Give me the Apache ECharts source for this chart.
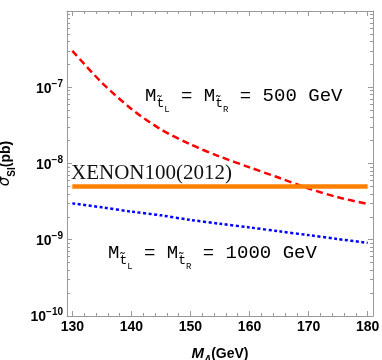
<!DOCTYPE html>
<html>
<head>
<meta charset="utf-8">
<script src="https://cdn.jsdelivr.net/npm/echarts@6/dist/echarts.min.js"></script>
<style>html,body{margin:0;padding:0;background:#fff}#c{width:382px;height:360px}</style>
</head>
<body>
<div id="c"></div>
<script>
// ---- data ----
const massA = [130, 135, 140, 145, 150, 155, 160, 165, 170, 175, 180];
const sigma500 = [3.0e-7, 1.15e-7, 5.2e-8, 2.8e-8, 1.78e-8, 1.23e-8, 8.9e-9, 6.5e-9, 4.7e-9, 3.6e-9, 2.95e-9];
const sigma1000 = [3.0e-9, 2.66e-9, 2.34e-9, 2.09e-9, 1.82e-9, 1.62e-9, 1.45e-9, 1.29e-9, 1.15e-9, 1.02e-9, 9.1e-10];
const xenonMass = [130, 180];
const xenonLimit = [5e-9, 5e-9];
const xTickLabels = [130, 140, 150, 160, 170, 180];
const xMinorTicks = [132,134,136,138,142,144,146,148,152,154,156,158,162,164,166,168,172,174,176,178];
const yLabelValues = [1e-10, 1e-9, 1e-8, 1e-7];
const yMajorTicks = [1e-10, 1e-9, 1e-8, 1e-7, 1e-6];
const yMinorTicks = [];
[-10, -9, -8, -7].forEach(function (e) { for (let m = 2; m <= 9; m++) yMinorTicks.push(m * Math.pow(10, e)); });

const pair = (xs, ys) => xs.map((x, i) => [x, ys[i]]);

const frame = '#9a9a9a';
const sans = 'Liberation Sans';
const mono = 'Liberation Mono';

function xAx(pos, ticks, len, showLine, showLabel) {
  return {
    type: 'value', position: pos, min: 129.1, max: 180.9,
    axisLine: { show: showLine, lineStyle: { color: frame, width: 1 } },
    axisTick: { show: true, inside: true, length: len, customValues: ticks, lineStyle: { color: frame } },
    axisLabel: showLabel ? { show: true, customValues: xTickLabels, margin: 4, color: '#000', fontFamily: sans, fontWeight: 'bold', fontSize: 14 } : { show: false },
    splitLine: { show: false }
  };
}
function yAx(pos, ticks, len, showLine, showLabel) {
  return {
    type: 'log', logBase: 10, position: pos, min: 1e-10, max: 1e-6,
    axisLine: { show: showLine, lineStyle: { color: frame, width: 1 } },
    axisTick: { show: true, inside: true, length: len, customValues: ticks, lineStyle: { color: frame } },
    axisLabel: showLabel ? {
      show: true, customValues: yLabelValues, margin: 4,
      formatter: function (v) { return '{b|10}{s|\u2212' + Math.round(-Math.log10(v)) + '}'; },
      rich: {
        b: { fontFamily: sans, fontWeight: 'bold', fontSize: 14, color: '#000', verticalAlign: 'bottom', padding: [0, 0, 0, 0] },
        s: { fontFamily: sans, fontWeight: 'bold', fontSize: 10, color: '#000', verticalAlign: 'bottom', padding: [0, 0, 7, 0] }
      }
    } : { show: false },
    splitLine: { show: false }
  };
}

const xAxes = [xAx('bottom', xTickLabels, 5, true, true), xAx('bottom', xMinorTicks, 3, false, false),
               xAx('top', xTickLabels, 5, true, false), xAx('top', xMinorTicks, 3, false, false)];
xAxes[0].name = '{mi|M}{ai|A}{b|(GeV)}';
xAxes[0].nameLocation = 'middle';
xAxes[0].nameGap = 30;
xAxes[0].nameTextStyle = { rich: {
  mi: { fontFamily: sans, fontWeight: 'bold', fontStyle: 'italic', fontSize: 15, color: '#000', verticalAlign: 'bottom', padding: [0, 0, 4, 0] },
  ai: { fontFamily: sans, fontWeight: 'bold', fontStyle: 'italic', fontSize: 10, color: '#000', verticalAlign: 'bottom', padding: [0, 0, 0, 0] },
  b: { fontFamily: sans, fontWeight: 'bold', fontSize: 14, color: '#000', verticalAlign: 'bottom', padding: [0, 0, 4, 0] }
} };

const yAxes = [yAx('left', yMajorTicks, 5, true, true), yAx('left', yMinorTicks, 3, false, false),
               yAx('right', yMajorTicks, 5, true, false), yAx('right', yMinorTicks, 3, false, false)];
yAxes[0].name = '{s|\u03c3}{i|SI}{b|(pb)}';
yAxes[0].nameLocation = 'middle';
yAxes[0].nameGap = 50;
yAxes[0].nameTextStyle = { rich: {
  s: { fontFamily: 'DejaVu Sans', fontStyle: 'italic', fontSize: 15, color: '#000', verticalAlign: 'bottom', padding: [0, 0, 4, 0] },
  i: { fontFamily: sans, fontWeight: 'bold', fontSize: 10, color: '#000', verticalAlign: 'bottom', padding: [0, 0, 0, 0] },
  b: { fontFamily: sans, fontWeight: 'bold', fontSize: 14, color: '#000', verticalAlign: 'bottom', padding: [0, 0, 4, 0] }
} };

const txt = '#3a3a3a';
const richM = {
  m: { fontFamily: mono, fontSize: 19, color: txt, verticalAlign: 'bottom', padding: [0, 0, 10, 0] },
  t: { fontFamily: mono, fontSize: 13, color: txt, verticalAlign: 'bottom', padding: [0, 0, 5, 0] },
  l: { fontFamily: mono, fontSize: 9, color: txt, verticalAlign: 'bottom', padding: [0, 0, 1, 0] }
};
function mLabel(val) {
  return '{m|M}{t|t\u0303}{l|L}{m| = M}{t|t\u0303}{l|R}{m| = ' + val + ' GeV}';
}

const chart = echarts.init(document.getElementById('c'), null, { renderer: 'canvas' });
chart.setOption({
  animation: false,
  backgroundColor: '#fff',
  grid: { left: 67, right: 9, top: 11, bottom: 44, containLabel: false, outerBoundsMode: 'none' },
  xAxis: xAxes,
  yAxis: yAxes,
  series: [
    { type: 'line', name: '500', data: pair(massA, sigma500), smooth: 0.3, symbol: 'none',
      lineStyle: { color: '#ff0000', width: 2.5, type: [7, 4] } },
    { type: 'line', name: '1000', data: pair(massA, sigma1000), smooth: 0.3, symbol: 'none',
      lineStyle: { color: '#0000ff', width: 2.5, type: [3, 2.5] } },
    { type: 'line', name: 'xenon', data: pair(xenonMass, xenonLimit), symbol: 'none',
      lineStyle: { color: '#ff8000', width: 4.5 } }
  ],
  graphic: [
    { type: 'text', left: 145, top: 86, style: { text: mLabel('500'), rich: richM } },
    { type: 'text', left: 108, top: 243, style: { text: mLabel('1000'), rich: richM } },
    { type: 'text', left: 71, top: 163, style: { text: 'XENON100(2012)', fontFamily: 'Liberation Serif', fontSize: 21, fill: '#111' } }
  ]
});
</script>
</body>
</html>
